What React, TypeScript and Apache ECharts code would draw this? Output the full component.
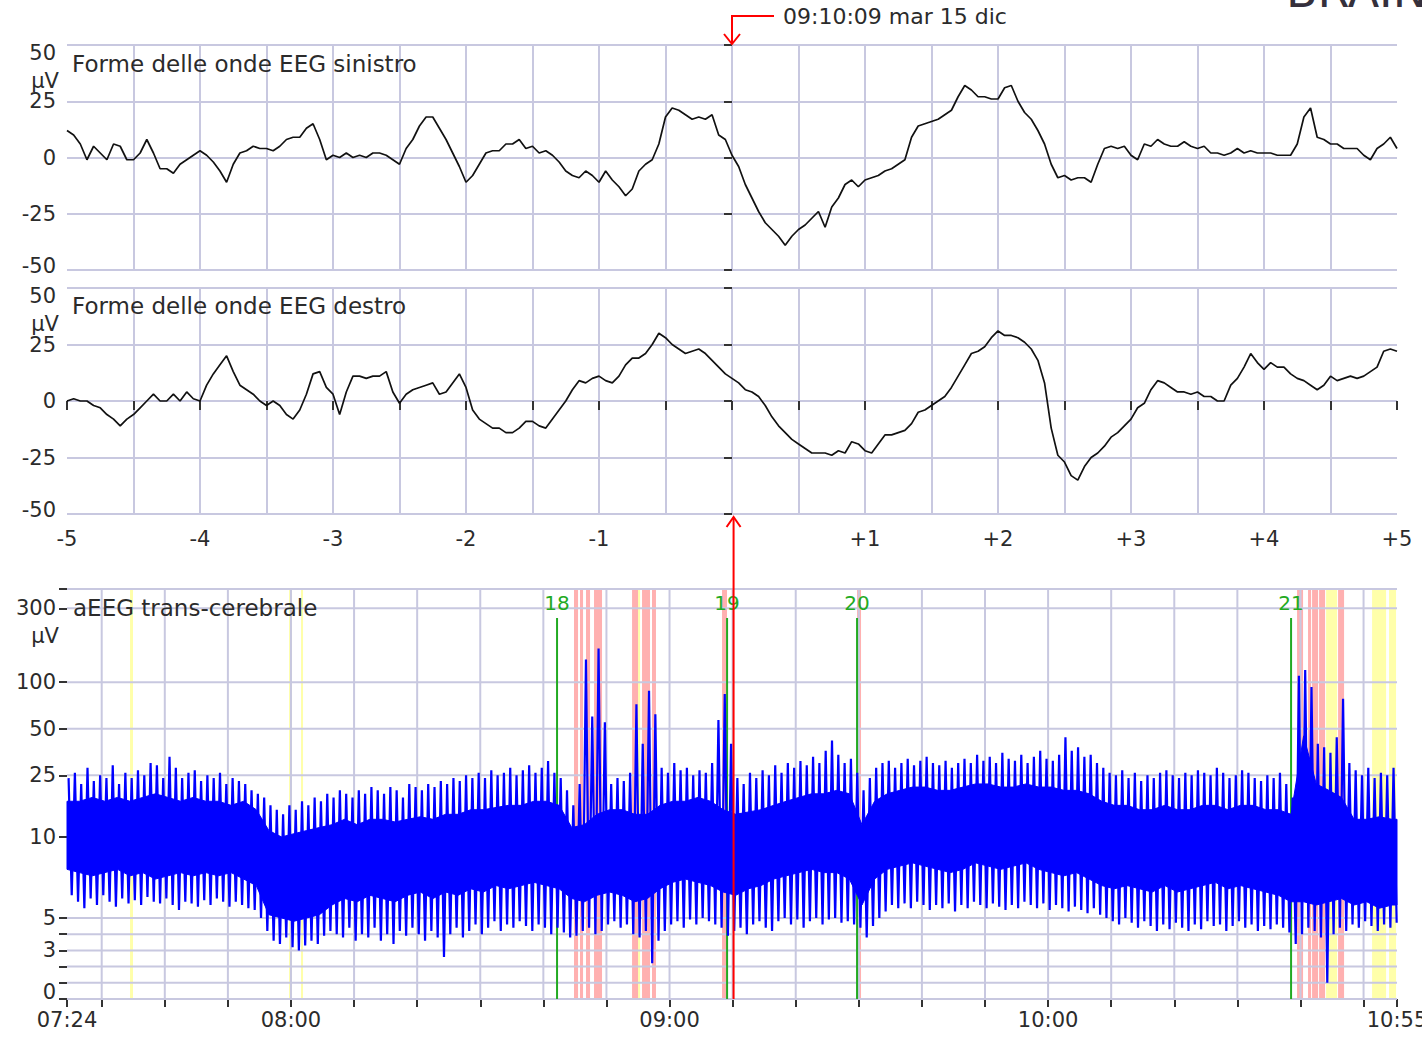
import React, { useEffect, useRef } from "react";
import * as echarts from "echarts";

const FONT = "DejaVu Sans";
const GRID = "#c8c8e0";
const INK = "#2b2b2b";
const BLUE = "#0000ff";
const GREEN = "#22aa22";
const RED = "#ff0000";
const PINK = "#ffb0b0";
const YELLOW = "#ffffaa";

// ---------- EEG waveforms (seconds around cursor, µV) ----------
const eegStart = -5;
const eegStep = 0.05;
const eegLeft = [
  12, 10, 6, -1, 5, 2, -1, 6, 5, -1,
  -1, 2, 8, 2, -5, -5, -7, -3, -1, 1,
  3, 1, -2, -6, -11, -3, 2, 3, 5, 4,
  4, 3, 5, 8, 9, 9, 13, 15, 8, -1,
  1, 0, 2, 0, 1, 0, 2, 2, 1, -1,
  -3, 4, 8, 14, 18, 18, 13, 8, 2, -4,
  -11, -8, -3, 2, 3, 3, 6, 6, 8, 4,
  5, 2, 3, 1, -2, -6, -8, -9, -6, -8,
  -11, -6, -10, -13, -17, -14, -6, -3, -1, 6,
  18, 22, 21, 19, 17, 18, 17, 19, 10, 8,
  1, -4, -12, -18, -24, -29, -32, -35, -39, -35,
  -32, -30, -27, -24, -31, -22, -18, -12, -10, -13,
  -10, -9, -8, -6, -5, -3, -1, 9, 14, 15,
  16, 17, 19, 21, 27, 32, 30, 27, 27, 26,
  26, 31, 32, 25, 20, 17, 12, 6, -3, -9,
  -8, -10, -9, -9, -11, -3, 4, 5, 4, 5,
  1, -1, 6, 5, 8, 6, 5, 5, 7, 5,
  4, 5, 2, 2, 1, 2, 4, 2, 3, 2,
  2, 2, 1, 1, 1, 6, 18, 22, 9, 8,
  6, 6, 4, 4, 4, 1, -1, 4, 6, 9,
  4,
];
const eegRight = [
  0, 1, 0, 0, -2, -3, -6, -8, -11, -8,
  -6, -3, 0, 3, 0, 0, 3, 0, 4, 1,
  0, 7, 12, 16, 20, 13, 7, 5, 3, 0,
  -2, 0, -2, -6, -8, -4, 3, 12, 13, 6,
  3, -6, 4, 11, 11, 10, 11, 11, 13, 4,
  -1, 3, 5, 6, 7, 8, 3, 4, 8, 12,
  6, -4, -8, -10, -12, -12, -14, -14, -12, -9,
  -9, -11, -12, -8, -4, 0, 5, 9, 8, 10,
  11, 9, 8, 11, 16, 19, 19, 21, 25, 30,
  28, 25, 23, 21, 22, 23, 21, 18, 15, 12,
  10, 8, 5, 4, 2, -2, -7, -11, -14, -17,
  -19, -21, -23, -23, -23, -24, -22, -23, -18, -19,
  -22, -23, -19, -15, -15, -14, -13, -10, -5, -4,
  -2, 0, 2, 6, 11, 16, 21, 22, 24, 28,
  31, 29, 29, 28, 26, 23, 18, 8, -12, -24,
  -27, -33, -35, -29, -25, -23, -20, -16, -14, -11,
  -8, -3, -1, 5, 9, 8, 6, 4, 4, 3,
  4, 2, 2, 0, 0, 7, 10, 15, 21, 17,
  14, 17, 15, 15, 12, 10, 9, 7, 5, 7,
  11, 9, 10, 11, 10, 11, 13, 15, 22, 23,
  22,
];

// ---------- aEEG trend (minutes since midnight, µV) ----------
const aeegStart = 444.5; // 07:24:30
const aeegEnd = 655.3; // 10:55:18
const coreStep = 2;
const coreHigh = [
  17, 17, 18, 17, 18, 17, 18, 19, 18, 17, 18, 17, 17, 16, 17, 15,
  11, 10, 10.5, 11, 11.5, 12, 13, 12, 13, 13, 12.5, 13, 13.5, 13, 14, 14, 15, 15, 15.5, 16, 16, 17, 17, 16,
  11.5, 12, 14, 15, 15, 14, 14, 16, 17, 17, 18, 17, 15, 14, 14.5, 15, 16, 17, 18, 19, 19, 20, 19,
  12, 17, 19, 20, 21, 21, 20, 20, 21, 22, 22, 21, 21, 22, 21, 21, 20, 20, 19,
  17, 16, 16, 15, 15, 16, 15, 15, 16, 16, 15, 16, 16, 15, 15, 14,
  45, 22, 20, 18, 13, 13, 13.5, 13,
];
const coreLow = [
  8, 7.8, 7.6, 7.8, 8, 7.6, 7.8, 7.4, 7.6, 7.8, 7.6, 7.8, 7.6, 7.8, 7.4, 7.0,
  5.2, 5.0, 4.8, 5.0, 5.2, 5.8, 6.2, 6.0, 6.4, 6.2, 6.0, 6.4, 6.6, 6.2, 6.6, 6.4, 6.8, 6.6, 7.0, 6.8, 7.0, 7.2, 7.0, 6.8,
  6.2, 6.0, 6.4, 6.6, 6.4, 6.0, 6.2, 6.8, 7.2, 7.4, 7.2, 7.0, 6.6, 6.4, 6.8, 7.0, 7.4, 7.6, 7.8, 8.0, 7.8, 7.8, 7.4,
  5.8, 7.4, 8.0, 8.2, 8.4, 8.2, 8.0, 7.8, 8.0, 8.4, 8.2, 8.0, 8.2, 8.4, 8.0, 7.8, 7.6, 7.8, 7.4,
  7.0, 6.8, 7.0, 6.8, 6.6, 7.0, 6.6, 6.8, 7.0, 7.2, 6.8, 7.0, 6.8, 6.6, 6.4, 6.0,
  6.0, 5.8, 6.0, 6.2, 5.8, 6.0, 5.6, 5.8,
];
const extStep = 1;
const extMax = [
  24, 26, 22, 28, 23, 25, 24, 29, 22, 26,
  24, 27, 25, 30, 29, 24, 33, 28, 24, 26,
  27, 23, 25, 24, 26, 22, 24, 23, 22, 20,
  19, 18, 16, 15, 14, 16, 15, 17, 16, 18,
  17, 19, 18, 20, 19, 18, 20, 19, 21, 20,
  19, 21, 20, 18, 22, 21, 20, 22, 21, 23,
  22, 24, 23, 25, 24, 26, 24, 27, 25, 26,
  28, 25, 27, 29, 26, 28, 31, 26, 24, 20,
  16, 22, 140, 60, 165, 55, 22, 24, 23, 26,
  72, 40, 88, 62, 28, 26, 30, 27, 28, 25,
  27, 26, 30, 57, 84, 40, 24, 22, 26, 24,
  27, 25, 29, 26, 30, 28, 31, 29, 33, 30,
  36, 42, 34, 30, 32, 26, 20, 24, 28, 30,
  31, 28, 30, 32, 29, 31, 33, 30, 29, 31,
  28, 30, 32, 30, 34, 31, 33, 30, 35, 32,
  31, 34, 30, 33, 36, 32, 31, 34, 44, 36,
  38, 33, 34, 30, 28, 26, 25, 27, 24, 26,
  23, 25, 24, 26, 27, 25, 24, 26, 25, 27,
  26, 25, 28, 26, 24, 25, 27, 26, 24, 23,
  25, 24, 26, 22, 18, 110, 120, 93, 40, 38,
  35, 44, 78, 30, 27, 25, 28, 24, 26, 25,
  28,
];
const extMin = [
  6.4, 6.0, 5.6, 6.2, 5.8, 6.4, 6.0, 5.7, 6.2, 5.9,
  6.1, 5.8, 6.3, 6.0, 5.9, 6.2, 5.8, 5.5, 6.0, 5.9,
  5.7, 6.1, 5.8, 6.2, 6.0, 5.7, 6.0, 5.8, 5.6, 5.5,
  5.0, 4.2, 3.6, 3.4, 3.8, 3.2, 3.0, 3.3, 3.6, 3.4,
  3.9, 4.2, 4.0, 3.8, 4.4, 3.6, 4.0, 3.8, 4.4, 3.6,
  4.0, 3.4, 4.2, 3.9, 4.4, 4.0, 3.6, 4.2, 3.8, 2.6,
  4.0, 4.4, 3.8, 4.2, 4.6, 4.0, 4.4, 4.8, 4.2, 4.6,
  4.4, 4.8, 4.5, 4.2, 4.6, 4.4, 4.0, 4.4, 4.1, 3.8,
  3.9, 4.2, 4.4, 4.0, 4.2, 4.6, 4.8, 4.4, 4.6, 4.0,
  3.8, 4.2, 2.2, 3.6, 4.2, 4.6, 4.8, 4.4, 4.9, 4.6,
  5.0, 4.8, 4.6, 4.4, 3.9, 4.2, 4.4, 4.0, 4.6, 4.8,
  4.4, 4.2, 4.8, 5.0, 4.6, 4.9, 4.4, 4.8, 5.0, 4.6,
  4.9, 5.0, 4.7, 4.8, 4.6, 4.4, 3.8, 4.5, 5.0, 5.4,
  5.8, 5.6, 5.9, 5.6, 6.0, 5.8, 5.5, 5.8, 5.6, 5.9,
  5.4, 5.8, 5.6, 6.0, 5.8, 5.6, 5.9, 5.7, 5.5, 5.8,
  5.6, 6.0, 5.8, 5.6, 5.9, 5.5, 5.8, 5.6, 5.4, 5.7,
  5.5, 5.3, 5.6, 5.2, 5.0, 4.8, 4.6, 5.0, 4.7, 4.4,
  4.8, 4.5, 4.2, 4.6, 4.3, 4.7, 4.4, 4.2, 4.6, 4.3,
  4.8, 4.5, 4.6, 4.2, 4.5, 4.8, 4.4, 4.6, 4.2, 4.5,
  4.3, 4.6, 4.4, 4.1, 3.4, 4.0, 4.4, 4.2, 3.8, 1.0,
  4.0, 4.4, 4.2, 4.6, 4.4, 4.8, 4.5, 4.2, 4.6, 4.4,
  4.7,
];

// event bands [start, end] in minutes
const yellowBands = [
  [454.49, 454.96], [479.69, 480.16], [481.59, 481.91], [535.01, 535.33],
  [644.06, 645.8], [651.35, 653.57], [654.04, 655.15],
];
const pinkBands = [
  [524.86, 525.5], [525.81, 526.29], [526.76, 527.4], [528.03, 529.3],
  [534.06, 535.01], [535.64, 536.91], [537.22, 537.85], [548.32, 549.11],
  [569.72, 570.35], [639.46, 640.41], [641.2, 641.68], [641.84, 642.79],
  [642.95, 643.9], [645.96, 646.91],
];
const seizureTimes = [522.17, 549.12, 569.72, 638.51];
const seizureLabels = ["18", "19", "20", "21"];
const seizureTopUv = 260;

const cursorTime = 9 * 60 + 10 + 9 / 60;
const cursorLabel = "09:10:09 mar 15 dic";

const yTickValues = [0, 1, 2, 3, 4, 5, 10, 25, 50, 100, 300, 400];
const yLabelValues = [0, 3, 5, 10, 25, 50, 100, 300];
const xTickMinutes = [444.5, 450, 460, 470, 480, 490, 500, 510, 520, 530, 540, 550, 560, 570, 580, 590, 600, 610, 620, 630, 640, 650, 655.3];
const xLabelMinutes = [444.5, 480, 540, 600, 655.3];
const vGridMinutes = [450, 460, 470, 480, 490, 500, 510, 520, 530, 540, 550, 560, 570, 580, 590, 600, 610, 620, 630, 640, 650];

// semi-log aEEG scale: linear 0-10, log above 10
const K = 9.55;
const T = (v: number) => (v <= 10 ? v : 10 + Math.log10(v / 10) * K);
const invT = (t: number) => (t <= 10 ? t : 10 * Math.pow(10, (t - 10) / K));
const Y_MAX = T(400);

const hhmm = (m: number) => {
  const mm = Math.floor(m + 1e-6);
  const h = Math.floor(mm / 60);
  const mi = mm % 60;
  return `${String(h).padStart(2, "0")}:${String(mi).padStart(2, "0")}`;
};

const tickStyle = { color: "#333", width: 2 };
const labelBase = { fontSize: 21, fontFamily: FONT, color: INK };
const edgeRich = {
  t: { ...labelBase, padding: [16, 0, 0, 0] },
  b: { ...labelBase, padding: [0, 0, 8, 0] },
  b0: { ...labelBase, padding: [0, 0, 14, 0] },
};

function eegAxes(gi: number, withLabels: boolean) {
  return {
    x: {
      gridIndex: gi,
      type: "value",
      min: -5,
      max: 5,
      interval: 0.5,
      axisLine: { show: false },
      axisTick: { show: withLabels, length: 9, lineStyle: tickStyle },
      axisLabel: {
        show: withLabels,
        interval: 0,
        margin: 14,
        ...labelBase,
        formatter: (v: number) => {
          if (Math.abs(v) < 1e-9) return "";
          if (Math.abs(v - Math.round(v)) > 1e-9) return "";
          return v > 0 ? `+${v}` : `${v}`;
        },
      },
      splitLine: { show: true, showMinLine: false, showMaxLine: false, lineStyle: { color: GRID, width: 2 } },
    },
    y: {
      gridIndex: gi,
      type: "value",
      min: -50,
      max: 50,
      interval: 25,
      axisLine: { show: false },
      axisTick: { show: true, length: 8, lineStyle: tickStyle },
      axisLabel: {
        ...labelBase,
        margin: 11,
        rich: edgeRich,
        formatter: (v: number) => (v === 50 ? "{t|50}" : v === -50 ? "{b|-50}" : String(v)),
      },
      splitLine: { show: true, lineStyle: { color: GRID, width: 2 } },
    },
  };
}

function buildOption() {
  const a0 = eegAxes(0, false);
  const a1 = eegAxes(1, true);
  const bands = [
    ...yellowBands.map((b) => [b[0], b[1], 0]),
    ...pinkBands.map((b) => [b[0], b[1], 1]),
  ];
  const zigzag: number[][] = [];
  extMax.forEach((v, i) => {
    const t = aeegStart + i * extStep;
    zigzag.push([t + 0.25, T(v)]);
    zigzag.push([t + 0.75, T(extMin[i])]);
  });
  const gridBase = { left: 67, width: 1330, outerBoundsMode: "none", containLabel: false };
  return {
    animation: false,
    backgroundColor: "#ffffff",
    textStyle: { fontFamily: FONT },
    grid: [
      { ...gridBase, top: 45, height: 225 },
      { ...gridBase, top: 288, height: 226 },
      { ...gridBase, top: 589, height: 410 },
    ],
    xAxis: [
      a0.x,
      a1.x,
      {
        gridIndex: 2,
        type: "value",
        min: aeegStart,
        max: aeegEnd,
        axisLine: { show: false },
        axisTick: { show: true, length: 8, lineStyle: tickStyle, customValues: xTickMinutes },
        axisLabel: { ...labelBase, margin: 10, customValues: xLabelMinutes, formatter: (v: number) => hhmm(v) },
        splitLine: { show: false },
      },
    ],
    yAxis: [
      a0.y,
      a1.y,
      {
        gridIndex: 2,
        type: "value",
        min: 0,
        max: Y_MAX,
        axisLine: { show: false },
        axisTick: { show: true, length: 8, lineStyle: tickStyle, customValues: yTickValues.map(T) },
        axisLabel: {
          ...labelBase,
          margin: 11,
          rich: edgeRich,
          customValues: yLabelValues.map(T),
          formatter: (v: number) => {
            const r = Math.round(invT(v));
            return r === 0 ? "{b0|0}" : String(r);
          },
        },
        splitLine: { show: false },
      },
    ],
    series: [
      {
        type: "line",
        xAxisIndex: 0,
        yAxisIndex: 0,
        data: eegLeft.map((v, i) => [eegStart + i * eegStep, v]),
        showSymbol: false,
        lineStyle: { color: "#111", width: 1.7 },
        z: 3,
      },
      {
        type: "line",
        xAxisIndex: 1,
        yAxisIndex: 1,
        data: eegRight.map((v, i) => [eegStart + i * eegStep, v]),
        showSymbol: false,
        lineStyle: { color: "#111", width: 1.7 },
        z: 3,
      },
      {
        type: "custom",
        xAxisIndex: 2,
        yAxisIndex: 2,
        z: 1,
        silent: true,
        data: bands,
        renderItem: (params: any, api: any) => {
          const p0 = api.coord([api.value(0), Y_MAX]);
          const p1 = api.coord([api.value(1), 0]);
          return {
            type: "rect",
            shape: { x: p0[0], y: p0[1], width: p1[0] - p0[0], height: p1[1] - p0[1] },
            style: { fill: api.value(2) === 0 ? YELLOW : PINK },
          };
        },
      },
      {
        type: "custom",
        xAxisIndex: 2,
        yAxisIndex: 2,
        z: 2,
        silent: true,
        data: yTickValues.map((v) => [aeegStart, v]),
        renderItem: (params: any, api: any) => {
          const v = T(api.value(1));
          const p0 = api.coord([aeegStart, v]);
          const p1 = api.coord([aeegEnd, v]);
          return { type: "line", shape: { x1: p0[0], y1: p0[1], x2: p1[0], y2: p1[1] }, style: { stroke: GRID, lineWidth: 2 } };
        },
      },
      {
        type: "custom",
        xAxisIndex: 2,
        yAxisIndex: 2,
        z: 2,
        silent: true,
        data: vGridMinutes.map((m) => [m, 0]),
        renderItem: (params: any, api: any) => {
          const m = api.value(0);
          const p0 = api.coord([m, Y_MAX]);
          const p1 = api.coord([m, 0]);
          return { type: "line", shape: { x1: p0[0], y1: p0[1], x2: p1[0], y2: p1[1] }, style: { stroke: GRID, lineWidth: 2 } };
        },
      },
      {
        type: "custom",
        xAxisIndex: 2,
        yAxisIndex: 2,
        z: 3,
        silent: true,
        data: seizureTimes.map((m) => [m, 0]),
        renderItem: (params: any, api: any) => {
          const m = api.value(0);
          const top = api.coord([m, T(seizureTopUv)]);
          const bot = api.coord([m, 0]);
          return {
            type: "group",
            children: [
              { type: "line", shape: { x1: top[0], y1: top[1], x2: bot[0], y2: bot[1] }, style: { stroke: GREEN, lineWidth: 2 } },
              {
                type: "text",
                x: top[0],
                y: top[1] - 5,
                style: { text: seizureLabels[params.dataIndex], fill: GREEN, fontSize: 20, fontFamily: FONT, align: "center", verticalAlign: "bottom" },
              },
            ],
          };
        },
      },
      {
        type: "custom",
        xAxisIndex: 2,
        yAxisIndex: 2,
        z: 4,
        silent: true,
        data: [[aeegStart, 0]],
        renderItem: (params: any, api: any) => {
          const n = coreHigh.length;
          const tAt = (j: number) => aeegStart + j * coreStep;
          const pts: number[][] = [];
          for (let j = 0; j < n; j++) pts.push(api.coord([tAt(j), T(coreHigh[j])]));
          pts.push(api.coord([aeegEnd, T(coreHigh[n - 1])]));
          pts.push(api.coord([aeegEnd, T(coreLow[n - 1])]));
          for (let j = n - 1; j >= 0; j--) pts.push(api.coord([tAt(j), T(coreLow[j])]));
          return { type: "polygon", shape: { points: pts }, style: { fill: BLUE, stroke: BLUE, lineWidth: 1 } };
        },
      },
      {
        type: "line",
        xAxisIndex: 2,
        yAxisIndex: 2,
        z: 4,
        silent: true,
        showSymbol: false,
        data: zigzag,
        lineStyle: { color: BLUE, width: 2.2 },
      },
    ],
  };
}

export default function App() {
  const ref = useRef<HTMLDivElement>(null);
  useEffect(() => {
    const el = ref.current;
    if (!el) return;
    const chart = echarts.init(el, null, { renderer: "svg" });
    chart.setOption(buildOption() as any);

    const x0 = chart.convertToPixel({ xAxisIndex: 0 }, 0) as number;
    const yTop = chart.convertToPixel({ yAxisIndex: 0 }, 50) as number;
    const yP2Bottom = chart.convertToPixel({ yAxisIndex: 1 }, -50) as number;
    const yP1Top = chart.convertToPixel({ yAxisIndex: 1 }, 50) as number;
    const cx = chart.convertToPixel({ xAxisIndex: 2 }, cursorTime) as number;
    const yBottom = chart.convertToPixel({ yAxisIndex: 2 }, 0) as number;
    const yB300 = chart.convertToPixel({ yAxisIndex: 2 }, T(300)) as number;
    const yMarker = yTop - 29;
    const redStyle = { stroke: RED, lineWidth: 2, fill: null };
    const txt = (text: string, x: number, y: number, extra: any = {}) => ({
      type: "text",
      x,
      y,
      z: 100,
      silent: true,
      style: { text, fill: INK, fontSize: 21, fontFamily: FONT, verticalAlign: "middle", ...extra },
    });

    chart.setOption({
      graphic: [
        txt("Forme delle onde EEG sinistro", 72, yTop + 19, { fontSize: 23 }),
        txt("Forme delle onde EEG destro", 72, yP1Top + 18, { fontSize: 23 }),
        txt("aEEG trans-cerebrale", 73, yB300, { fontSize: 23 }),
        txt("µV", 45, yTop + 36, { align: "center" }),
        txt("µV", 45, yP1Top + 36, { align: "center" }),
        txt("µV", 45, yB300 + 28, { align: "center" }),
        txt(cursorLabel, x0 + 51, yMarker, { fontSize: 22 }),
        txt("BRAINZ", 1286, -9, { fontSize: 46, fill: "#35303c" }),
        {
          type: "polyline",
          z: 100,
          silent: true,
          shape: { points: [[x0 + 42, yMarker], [x0, yMarker], [x0, yTop - 1]] },
          style: redStyle,
        },
        {
          type: "polyline",
          z: 100,
          silent: true,
          shape: { points: [[x0 - 8, yTop - 11], [x0, yTop - 1], [x0 + 8, yTop - 11]] },
          style: redStyle,
        },
        {
          type: "line",
          z: 100,
          silent: true,
          shape: { x1: cx, y1: yP2Bottom + 3, x2: cx, y2: yBottom },
          style: { stroke: RED, lineWidth: 2 },
        },
        {
          type: "polyline",
          z: 100,
          silent: true,
          shape: { points: [[cx - 7, yP2Bottom + 13], [cx, yP2Bottom + 3], [cx + 7, yP2Bottom + 13]] },
          style: redStyle,
        },
      ],
    });
    return () => chart.dispose();
  }, []);
  return (
    <div
      ref={ref}
      style={{ position: "absolute", left: 0, top: 0, width: 1422, height: 1038, background: "#fff" }}
    />
  );
}
